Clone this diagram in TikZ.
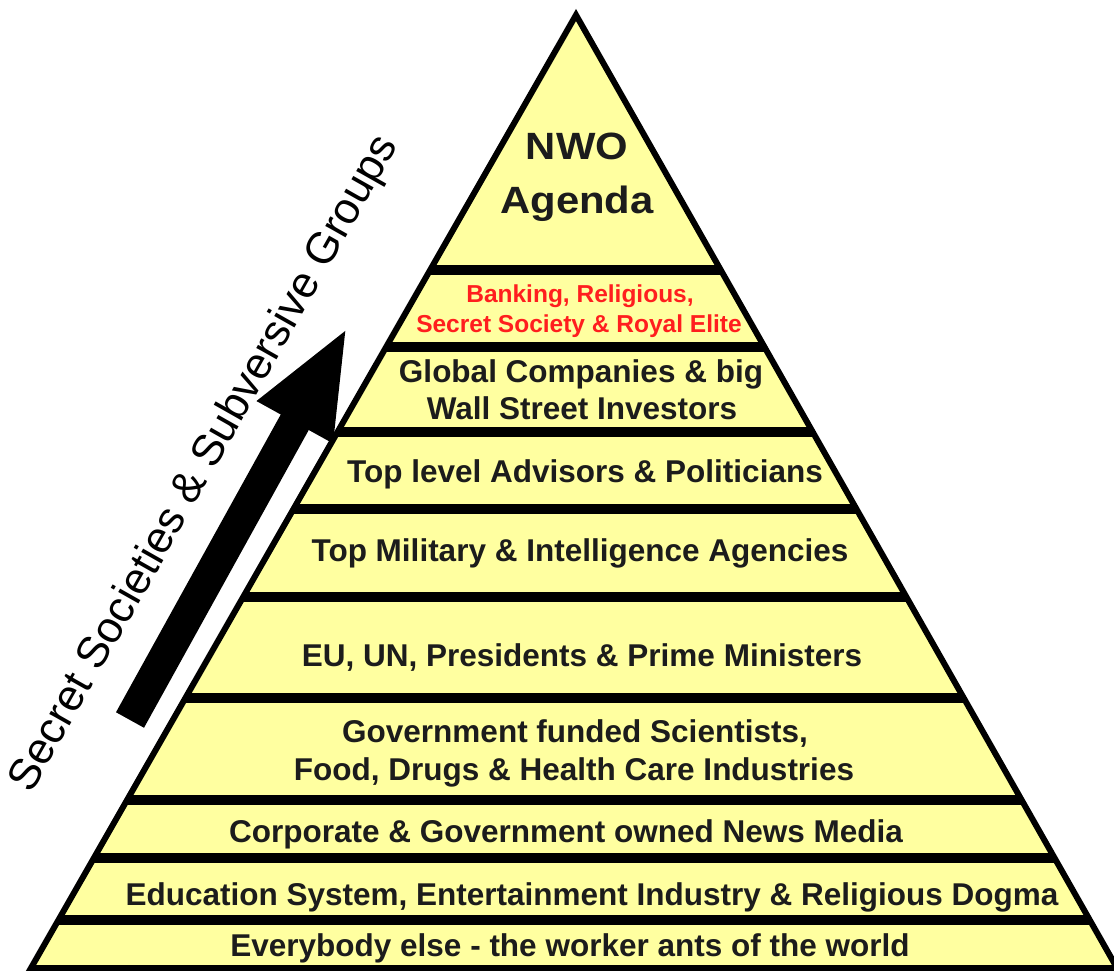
\documentclass[tikz,border=0pt]{standalone}
\usepackage{fontspec}
\setmainfont{Liberation Sans}
\newfontfamily\widefont[FakeStretch=1.1]{Liberation Sans}
\usetikzlibrary{arrows.meta}
\definecolor{pyr}{RGB}{255,255,160}
\definecolor{redtxt}{RGB}{255,30,30}
\definecolor{txt}{RGB}{28,28,28}
\begin{document}
\begin{tikzpicture}[x=1pt,y=-1pt,
  lbl/.style={font=\bfseries\fontsize{31.5}{38}\selectfont, text=txt, anchor=base, inner sep=0pt},
  redlbl/.style={font=\bfseries\fontsize{24.5}{29}\selectfont, text=redtxt, anchor=base, inner sep=0pt},
  toplbl/.style={font=\widefont\bfseries\fontsize{38}{44}\selectfont, text=txt, anchor=base, inner sep=0pt},
  sepbar/.style={line width=9.5pt},
  outline/.style={line width=6pt, line join=miter},
  bigarrow/.style={line width=32pt, -{Triangle[length=110pt,width=78pt]}},
  sidelbl/.style={rotate=60.5, font=\fontsize{44}{50}\selectfont, text=black, inner sep=0pt}
]
\useasboundingbox (0,0) rectangle (1114,971);
\coordinate (apex) at (576,15);
\coordinate (bl) at (31,968);
\coordinate (br) at (1117,968);
\fill[pyr] (apex) -- (bl) -- (br) -- cycle;
\begin{scope}
  \clip (apex) -- (bl) -- (br) -- cycle;
  \foreach \yy in {270,347,432,509,597,698,800,858,920}
    \draw[sepbar] (0,\yy) -- (1114,\yy);
\end{scope}
\draw[outline] (apex) -- (bl) -- (br) -- cycle;

% texts
\node[toplbl] (nwo) at (577,160) {NWO};
\node[toplbl] (agenda) at (577,213) {Agenda};
\node[redlbl] (red1) at (580,302) {Banking, Religious,};
\node[redlbl] (red2) at (579,332) {Secret Society \& Royal Elite};
\node[lbl] (glob1) at (581,382) {Global Companies \& big};
\node[lbl] (glob2) at (582,419) {Wall Street Investors};
\node[lbl] (advis) at (585,482) {Top level Advisors \& Politicians};
\node[lbl] (milit) at (580,561) {Top Military \& Intelligence Agencies};
\node[lbl] (eu) at (582,666) {EU, UN, Presidents \& Prime Ministers};
\node[lbl] (gov1) at (575,742) {Government funded Scientists,};
\node[lbl] (gov2) at (574,780) {Food, Drugs \& Health Care Industries};
\node[lbl] (news) at (566,842) {Corporate \& Government owned News Media};
\node[lbl] (edu) at (592,905) {Education System, Entertainment Industry \& Religious Dogma};
\node[lbl] (all) at (570,956) {Everybody else - the worker ants of the world};

% arrow and side label
\coordinate (tail) at (130,720);
\coordinate (tip) at (348,326);
\draw[bigarrow] (tail) -- (tip);
\node[sidelbl] (side) at (205,464) {Secret Societies \& Subversive Groups};
\end{tikzpicture}
\end{document}
